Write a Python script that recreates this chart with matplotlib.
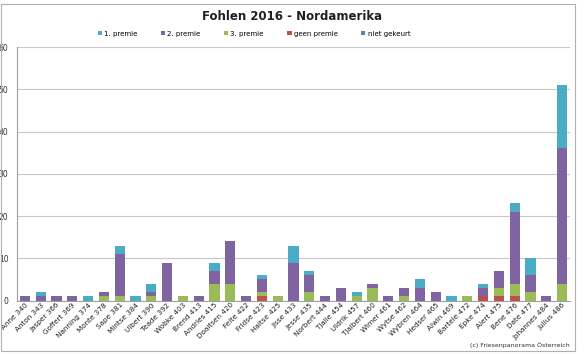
import numpy as np
import matplotlib
matplotlib.use('Agg')
import matplotlib.pyplot as plt
from matplotlib.patches import Rectangle

# data
names = ['Anne 340', 'Anton 343', 'Jasper 366', 'Goffert 369', 'Nanning 374', 'Monte 378',
         'Sape 381', 'Mintse 384', 'Ulbert 390', 'Teade 392', 'Wobke 403', 'Brend 413',
         'Andries 415', 'Doaitsen 420', 'Feite 422', 'Fridse 423', 'Haitse 425', 'Jisse 433',
         'Jesse 435', 'Norbert 444', 'Tjalle 454', 'Uldrik 457', 'Tjalbert 460', 'Wimer 461',
         'Wytse 462', 'Wybren 464', 'Hedser 465', 'Alwin 469', 'Bartele 472', 'Epke 474',
         'Alert 475', 'Bene 476', 'Date 477', 'Johannes 484', 'Julius 486']
niet_gekeurt = [0] * 35
geen_premie = [0, 0, 0, 0, 0, 0, 0, 0, 0, 0, 0, 0, 0, 0, 0, 1, 0, 0, 0, 0, 0, 0, 0, 0,
               0, 0, 0, 0, 0, 1, 1, 1, 0, 0, 0]
premie3 = [0, 0, 0, 0, 0, 1, 1, 0, 1, 0, 1, 0, 4, 4, 0, 1, 1, 0, 2, 0, 0, 1, 3, 0,
           1, 0, 0, 0, 1, 0, 2, 3, 2, 0, 4]
premie2 = [1, 1, 1, 1, 0, 1, 10, 0, 1, 9, 0, 1, 3, 10, 1, 3, 0, 9, 4, 1, 3, 0, 1, 1,
           2, 3, 2, 0, 0, 2, 4, 17, 4, 1, 32]
premie1 = [0, 1, 0, 0, 1, 0, 2, 1, 2, 0, 0, 0, 2, 0, 0, 1, 0, 4, 1, 0, 0, 1, 0, 0,
           0, 2, 0, 1, 0, 1, 0, 2, 4, 0, 15]

series = [('niet gekeurt', niet_gekeurt, '#4F81BD'),
          ('geen premie', geen_premie, '#C0504D'),
          ('3. premie', premie3, '#9BBB59'),
          ('2. premie', premie2, '#8064A2'),
          ('1. premie', premie1, '#4BACC6')]

fig = plt.figure(figsize=(5.84, 3.54), dpi=100)
ax = fig.add_axes([0.029, 0.151, 0.947, 0.716])

x = np.arange(len(names))
bottom = np.zeros(len(names))
handles = {}
for label, vals, col in series:
    vals = np.array(vals, dtype=float)
    h = ax.bar(x, vals, 0.65, bottom=bottom, color=col, label=label, zorder=3)
    handles[label] = h
    bottom += vals

ax.set_xlim(-0.5, len(names) - 0.5)
ax.set_ylim(0, 60)
ax.set_yticks(range(0, 61, 10))
ax.tick_params(axis='y', length=0, labelsize=5.5, labelcolor='#303030', pad=6)
ax.tick_params(axis='x', length=0, pad=1)
ax.set_xticks(x)
ax.set_xticklabels(names, rotation=45, ha='right', rotation_mode='anchor',
                   fontsize=5.2, color='#202020')
ax.grid(axis='y', color='#c8c8c8', linewidth=0.8, zorder=0)
for s in ['top', 'right']:
    ax.spines[s].set_visible(False)
ax.spines['left'].set_color('#a0a0a0')
ax.spines['bottom'].set_color('#a0a0a0')

fig.text(0.5, 0.952, 'Fohlen 2016 - Nordamerika', ha='center', va='center',
         fontsize=8.5, fontweight='bold', color='#202020')

order = ['1. premie', '2. premie', '3. premie', 'geen premie', 'niet gekeurt']
fig.legend([handles[k] for k in order], order, loc='center', bbox_to_anchor=(0.435, 0.905),
           ncol=5, frameon=False, fontsize=5, handlelength=0.6, handleheight=0.6,
           handletextpad=0.3, columnspacing=3.4)

fig.text(0.975, 0.025, '(c) Friesenpanorama Österreich', ha='right', va='center',
         fontsize=4.5, color='#303030')

fig.patches.append(Rectangle((0.001, 0.008), 0.984, 0.982, transform=fig.transFigure,
                             fill=False, edgecolor='#b0b0b0', linewidth=0.8))

fig.savefig('out.png', dpi=100)
